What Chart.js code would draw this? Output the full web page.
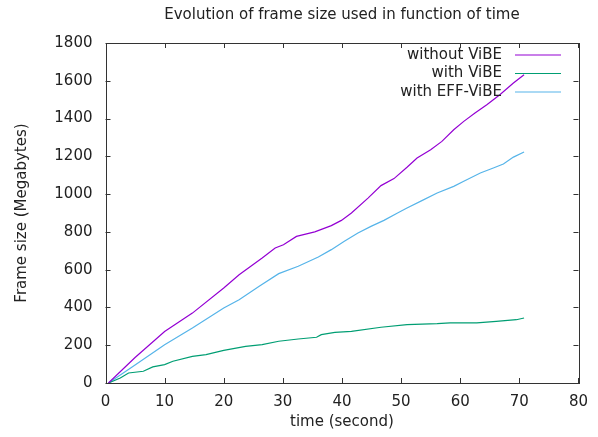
<!DOCTYPE html>
<html>
<head>
<meta charset="utf-8">
<script src="https://cdn.jsdelivr.net/npm/chart.js@4.4.0/dist/chart.umd.min.js"></script>
<style>
  html, body { margin: 0; padding: 0; background: #fff; }
  #wrap { width: 598px; height: 437px; }
</style>
</head>
<body>
<div id="wrap"><canvas id="chart" width="598" height="437"></canvas></div>
<script>
// ----------------------------
// Data
// ----------------------------
const chartTitle = "Evolution of frame size used in function of time";
const xTicks = [0, 10, 20, 30, 40, 50, 60, 70, 80];
const yTicks = [0, 200, 400, 600, 800, 1000, 1200, 1400, 1600, 1800];

const seriesLabels = ["without ViBE", "with ViBE", "with EFF-ViBE"];
const seriesColors = ["#9400d3", "#009e73", "#56b4e9"];

const noVibeTime = [0.5, 5, 10, 14.7, 20, 22.6, 26.5, 28.7, 30.1, 32.3, 35.4, 38.2, 39.9, 41.6, 44.4, 46.6, 48.8, 51, 52.7, 55, 56.9, 58.9, 60.6, 62.5, 64.5, 66.7, 69, 70.8];
const noVibeSize = [0, 135, 273, 370, 503, 573, 662, 715, 732, 776, 800, 833, 861, 900, 979, 1045, 1082, 1142, 1191, 1235, 1279, 1341, 1385, 1429, 1473, 1526, 1588, 1632];

const vibeTime = [0.5, 2.5, 3.9, 6.4, 8, 10, 11.4, 14.7, 17, 20, 23.7, 26.5, 29.3, 32.6, 35.7, 36.5, 38.8, 41.6, 46.6, 51, 56.1, 58.3, 62.8, 66.1, 69.5, 70.8];
const vibeSize = [0, 26, 53, 62, 85, 97, 115, 141, 150, 173, 194, 203, 221, 233, 242, 256, 268, 273, 295, 309, 314, 318, 318, 326, 335, 344];

const effTime = [0.5, 5, 10, 14.7, 20, 22.6, 26, 29.3, 32.6, 36, 38.2, 40.4, 42.7, 44.9, 47.1, 49.4, 51, 53.6, 56.1, 58.9, 60.6, 63.4, 65.6, 67.3, 69, 70.8];
const effSize = [0, 95, 203, 291, 397, 441, 512, 579, 618, 667, 706, 750, 794, 829, 861, 900, 926, 967, 1006, 1041, 1068, 1112, 1138, 1159, 1196, 1223];

const FONT = "DejaVu Sans";
const TEXT = "#222";
const SIZE = 15;

function toPoints(xs, ys) {
  return xs.map((x, i) => ({ x: x, y: ys[i] }));
}

// ----------------------------
// gnuplot-like frame, inward ticks, title, key
// ----------------------------
const gnuplotLook = {
  id: "gnuplotLook",
  afterDatasetsDraw(chart) {
    const ctx = chart.ctx;
    const a = chart.chartArea;
    const xs = chart.scales.x, ys = chart.scales.y;
    const tl = 5;
    ctx.save();
    ctx.strokeStyle = "#333";
    ctx.lineWidth = 1;
    ctx.strokeRect(Math.round(a.left) + 0.5, Math.round(a.top) + 0.5,
      Math.round(a.right - a.left), Math.round(a.bottom - a.top));
    ctx.beginPath();
    xTicks.forEach(v => {
      const px = Math.round(xs.getPixelForValue(v)) + 0.5;
      ctx.moveTo(px, a.bottom); ctx.lineTo(px, a.bottom - tl);
      ctx.moveTo(px, a.top); ctx.lineTo(px, a.top + tl);
    });
    yTicks.forEach(v => {
      const py = Math.round(ys.getPixelForValue(v)) + 0.5;
      ctx.moveTo(a.left, py); ctx.lineTo(a.left + tl, py);
      ctx.moveTo(a.right, py); ctx.lineTo(a.right - tl, py);
    });
    ctx.stroke();

    // title centred over the plot area
    ctx.fillStyle = TEXT;
    ctx.font = SIZE + "px '" + FONT + "'";
    ctx.textAlign = "center";
    ctx.textBaseline = "middle";
    ctx.fillText(chartTitle, (a.left + a.right) / 2, 15);

    // key, top right inside the frame
    chart.data.datasets.forEach((ds, i) => {
      const y = 55 + i * 18.5;
      ctx.textAlign = "right";
      ctx.fillStyle = TEXT;
      ctx.fillText(ds.label, 502, y);
      ctx.strokeStyle = ds.borderColor;
      ctx.lineWidth = 1.2;
      ctx.beginPath();
      ctx.moveTo(515, y); ctx.lineTo(561, y);
      ctx.stroke();
    });
    ctx.restore();
  }
};

const ctx = document.getElementById("chart").getContext("2d");

new Chart(ctx, {
  type: "scatter",
  data: {
    datasets: [
      { label: seriesLabels[0], data: toPoints(noVibeTime, noVibeSize), borderColor: seriesColors[0] },
      { label: seriesLabels[1], data: toPoints(vibeTime, vibeSize), borderColor: seriesColors[1] },
      { label: seriesLabels[2], data: toPoints(effTime, effSize), borderColor: seriesColors[2] }
    ].map(d => Object.assign(d, { showLine: true, pointRadius: 0, borderWidth: 1.2, tension: 0, fill: false }))
  },
  options: {
    responsive: false,
    animation: false,
    layout: { padding: { left: 8, right: 16, top: 43, bottom: 4 } },
    plugins: {
      legend: { display: false },
      title: { display: false },
      tooltip: { enabled: false }
    },
    scales: {
      x: {
        type: "linear",
        min: 0, max: 80,
        afterBuildTicks: s => { s.ticks = xTicks.map(v => ({ value: v })); },
        afterFit: s => { s.height = 50; },
        grid: { display: false, drawTicks: false },
        border: { display: false },
        ticks: { color: TEXT, padding: 10, maxRotation: 0, font: { family: FONT, size: SIZE }, callback: v => String(v) },
        title: { display: true, text: "time (second)", color: TEXT, padding: { top: 0, bottom: 2 }, font: { family: FONT, size: SIZE } }
      },
      y: {
        min: 0, max: 1800,
        afterBuildTicks: s => { s.ticks = yTicks.map(v => ({ value: v })); },
        afterFit: s => { s.width = 97.5; },
        grid: { display: false, drawTicks: false },
        border: { display: false },
        ticks: { color: TEXT, padding: 13, font: { family: FONT, size: SIZE }, callback: v => String(v) },
        title: { display: true, text: "Frame size (Megabytes)", color: TEXT, padding: { top: 5, bottom: 0 }, font: { family: FONT, size: SIZE } }
      }
    }
  },
  plugins: [gnuplotLook]
});
</script>
</body>
</html>
